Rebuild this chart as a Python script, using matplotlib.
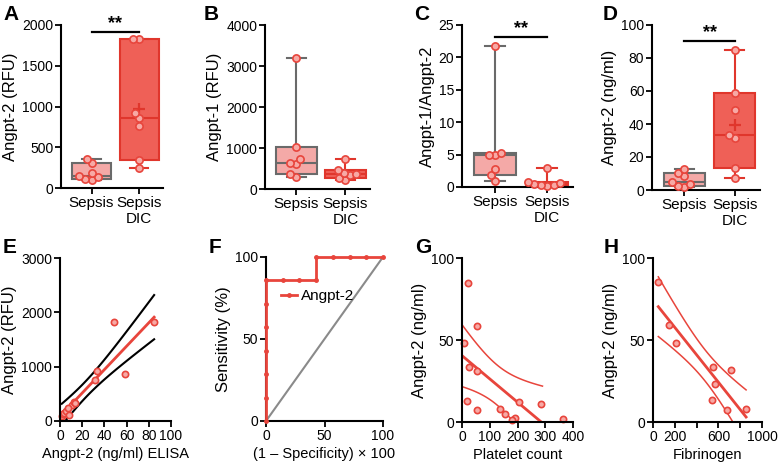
import numpy as np
import matplotlib
matplotlib.use('Agg')
import matplotlib.pyplot as plt

plt.rcParams['font.family'] = ['Liberation Sans', 'DejaVu Sans']
plt.rcParams['axes.linewidth'] = 1.5

RED = '#E8453C'
RED_DARK = '#E0362C'
DIC_FILL = '#EF6057'
SEP_FILL = '#F4A9A7'
GRAY = '#6A6A6A'
DOT_FILL = '#F7A9A5'

groups = ['Sepsis', 'Sepsis\nDIC']

# panel A-D: values per patient
a_sepsis = [98, 107, 131, 147, 188, 303, 356]
a_dic = [245, 339, 763, 857, 918, 1830, 1830]
b_sepsis = [293, 375, 603, 645, 735, 1029, 3200]
b_dic = [210, 260, 330, 360, 400, 470, 720]
c_sepsis = [1.0, 1.8, 2.8, 4.9, 5.0, 5.3, 21.7]
c_dic = [0.1, 0.25, 0.35, 0.4, 0.6, 0.7, 2.9]
d_sepsis = [1.6, 2.6, 3.7, 5.1, 8.5, 10.5, 12.6]
d_dic = [7.1, 13.2, 31.4, 33.5, 48.3, 58.8, 84.8]

# panel E: ELISA vs RFU
e_elisa = d_sepsis + d_dic
e_rfu = [98, 131, 147, 188, 107, 303, 356, 245, 339, 763, 918, 1830, 857, 1830]

# panel G: platelets
g_platelet = [21.6, 54, 8.4, 26.4, 55, 19.2, 53, 138, 154, 190, 180, 207, 286, 363]
g_angpt2 = [84.8, 58.8, 48.3, 33.5, 31.4, 12.6, 7.1, 7.8, 4.9, 2.7, 1.0, 12.0, 10.8, 2.0]
g_fit_range = (0, 290)

# panel H: fibrinogen
h_fib = [48.6, 143, 210, 550, 717, 568, 541, 681, 854]
h_angpt2 = [85.2, 59, 48.2, 33.3, 31.5, 23.4, 13.2, 7.3, 8.1]

T95 = {12: 2.1788, 7: 2.3646}

W, H = 780, 462
YLAB_FS = 12
XLAB_FS = 10.5
fig = plt.figure(figsize=(7.8, 4.62), dpi=100)


def px_axes(l, t, r, b):
    ax = fig.add_axes([l / W, 1 - b / H, (r - l) / W, (b - t) / H])
    ax.spines['top'].set_visible(False)
    ax.spines['right'].set_visible(False)
    ax.tick_params(direction='out', length=4, width=1.3, labelsize=10, pad=1.5)
    return ax


def panel_letter(x, y, s):
    fig.text(x / W, 1 - y / H, s, fontsize=15, fontweight='bold', va='top', ha='left')


def swarm_x(ax, pos, vals, diam=6.5):
    pts = ax.transData.transform(np.column_stack([np.full(len(vals), pos), vals]))
    x0 = pts[0, 0]
    cands = sorted(np.arange(-20, 20.01, 0.5), key=abs)
    placed = []
    offs = np.zeros(len(vals))
    for i in np.argsort(vals):
        yp = pts[i, 1]
        for c in cands:
            if all((c - ox) ** 2 + (yp - oy) ** 2 >= diam ** 2 for ox, oy in placed):
                break
        placed.append((c, yp))
        offs[i] = c
    inv = ax.transData.inverted()
    return [inv.transform((x0 + o, pts[i, 1]))[0] for i, o in enumerate(offs)]


def box_panel(ax, sep, dic, ylim, yticks, ylabel, mean_mark=False, sig=None):
    ax.set_xlim(0.36, 2.5)
    ax.set_ylim(*ylim)
    ax.set_yticks(yticks)
    ax.set_ylabel(ylabel, fontsize=YLAB_FS, labelpad=3)
    for pos, vals, fc, ec in [(1, sep, SEP_FILL, GRAY), (2, dic, DIC_FILL, RED_DARK)]:
        q1, med, q3 = np.percentile(vals, [25, 50, 75], method='weibull')
        st = dict(med=med, q1=q1, q3=q3, whislo=min(vals), whishi=max(vals), fliers=[])
        ax.bxp([st], positions=[pos], widths=0.82, patch_artist=True, manage_ticks=False,
               boxprops=dict(facecolor=fc, edgecolor=ec, linewidth=1.5),
               whiskerprops=dict(color=ec, linewidth=1.5),
               capprops=dict(color=ec, linewidth=1.5), capwidths=0.38,
               medianprops=dict(color=ec, linewidth=1.5), zorder=2)
        xs = swarm_x(ax, pos, vals)
        ax.plot(xs, vals, 'o', ms=5.2, mfc=DOT_FILL, mec=RED, mew=1.2,
                zorder=4, clip_on=False)
        if mean_mark and pos == 2:
            ax.plot(pos, np.mean(vals), '+', ms=8, mew=1.6, color=RED_DARK, zorder=3)
    ax.set_xticks([1, 2])
    ax.set_xticklabels(groups, fontsize=11)
    if sig is not None:
        ax.plot([1, 2], [sig, sig], color='black', lw=1.6, clip_on=False)
        ax.text(1.5, sig, '**', ha='center', va='bottom', fontsize=13,
                fontweight='bold')


def fit_band(x, y, xs, t):
    x = np.asarray(x, float)
    y = np.asarray(y, float)
    n = len(x)
    b, a = np.polyfit(x, y, 1)
    s = np.sqrt(np.sum((y - (a + b * x)) ** 2) / (n - 2))
    sxx = np.sum((x - x.mean()) ** 2)
    se = s * np.sqrt(1 / n + (xs - x.mean()) ** 2 / sxx)
    yh = a + b * xs
    return yh, yh - t * se, yh + t * se


# ---- top row
axA = px_axes(61, 25, 163, 188)
box_panel(axA, a_sepsis, a_dic, (0, 2000), [0, 500, 1000, 1500, 2000],
          'Angpt-2 (RFU)', mean_mark=True, sig=1915)
axB = px_axes(265, 25, 370, 189)
box_panel(axB, b_sepsis, b_dic, (0, 4000), [0, 1000, 2000, 3000, 4000],
          'Angpt-1 (RFU)')
axC = px_axes(462, 25, 573, 187)
box_panel(axC, c_sepsis, c_dic, (0, 25), [0, 5, 10, 15, 20, 25],
          'Angpt-1/Angpt-2', sig=23.2)
axD = px_axes(652, 25, 760, 190)
box_panel(axD, d_sepsis, d_dic, (0, 100), [0, 20, 40, 60, 80, 100],
          'Angpt-2 (ng/ml)', mean_mark=True, sig=90.3)

# ---- E
axE = px_axes(60, 258, 171, 421)
axE.set_xlim(0, 100)
axE.set_ylim(0, 3000)
axE.set_xticks([0, 20, 40, 60, 80, 100])
axE.set_yticks([0, 1000, 2000, 3000])
xs = np.linspace(min(e_elisa), max(e_elisa), 100)
yh, lo, hi = fit_band(e_elisa, e_rfu, xs, T95[len(e_elisa) - 2])
axE.plot(xs, lo, color='black', lw=1.5)
axE.plot(xs, hi, color='black', lw=1.5)
axE.plot(xs, yh, color=RED, lw=2)
axE.plot(e_elisa, e_rfu, 'o', ms=4.5, mfc=DOT_FILL, mec=RED, mew=1.2, clip_on=False)
axE.set_xlabel('Angpt-2 (ng/ml) ELISA', fontsize=XLAB_FS, labelpad=3)
axE.set_ylabel('Angpt-2 (RFU)', fontsize=YLAB_FS, labelpad=3)

# ---- F: ROC from panel D values
axF = px_axes(266, 257, 383, 421)
axF.set_xlim(0, 100)
axF.set_ylim(0, 100)
axF.set_xticks([0, 50, 100])
axF.set_yticks([0, 50, 100])
neg = np.array(d_sepsis)
pos = np.array(d_dic)
thr = np.sort(np.concatenate([neg, pos]))[::-1]
fpr = [0.0] + [100 * np.mean(neg >= v) for v in thr]
tpr = [0.0] + [100 * np.mean(pos >= v) for v in thr]
axF.plot([0, 100], [0, 100], color='#8A8A8A', lw=1.5, zorder=2)
axF.plot(fpr, tpr, '-', marker='o', ms=2.5, color=RED, lw=2, clip_on=False,
         zorder=3, label='Angpt-2')
axF.legend(loc='upper left', bbox_to_anchor=(0.08, 0.84), frameon=False,
           fontsize=11, handlelength=1.0, handletextpad=0.3, borderaxespad=0,
           numpoints=1)
axF.set_xlabel('(1 \u2013 Specificity) \u00d7 100', fontsize=XLAB_FS, labelpad=3)
axF.set_ylabel('Sensitivity (%)', fontsize=YLAB_FS, labelpad=3)

# ---- G
axG = px_axes(462, 258, 573, 422)
axG.set_xlim(0, 400)
axG.set_ylim(0, 100)
axG.set_xticks([0, 100, 200, 300, 400])
axG.set_yticks([0, 50, 100])
xs = np.linspace(g_fit_range[0], g_fit_range[1], 100)
yh, lo, hi = fit_band(g_platelet, g_angpt2, xs, T95[len(g_platelet) - 2])
axG.plot(xs, lo, color=RED, lw=1.1)
axG.plot(xs, hi, color=RED, lw=1.1)
axG.plot(xs, yh, color=RED, lw=2)
axG.plot(g_platelet, g_angpt2, 'o', ms=4.5, mfc=DOT_FILL, mec=RED, mew=1.2, clip_on=False)
axG.set_xlabel('Platelet count', fontsize=XLAB_FS, labelpad=3)
axG.set_ylabel('Angpt-2 (ng/ml)', fontsize=YLAB_FS, labelpad=3)

# ---- H
axH = px_axes(653, 258, 762, 422)
axH.set_xlim(0, 1000)
axH.set_ylim(0, 100)
axH.set_xticks([0, 200, 400, 600, 800, 1000])
axH.set_xticklabels(['0', '200', '', '600', '', '1000'])
axH.set_yticks([0, 50, 100])
xs = np.linspace(min(h_fib), max(h_fib), 100)
yh, lo, hi = fit_band(h_fib, h_angpt2, xs, T95[len(h_fib) - 2])
axH.plot(xs, lo, color=RED, lw=1.1)
axH.plot(xs, hi, color=RED, lw=1.1)
axH.plot(xs, yh, color=RED, lw=2)
axH.plot(h_fib, h_angpt2, 'o', ms=4.5, mfc=DOT_FILL, mec=RED, mew=1.2, clip_on=False)
axH.set_xlabel('Fibrinogen', fontsize=XLAB_FS, labelpad=3)
axH.set_ylabel('Angpt-2 (ng/ml)', fontsize=YLAB_FS, labelpad=3)

for x, y, s in [(3, 5, 'A'), (204, 5, 'B'), (414, 5, 'C'), (603, 5, 'D'),
                (3, 238, 'E'), (209, 238, 'F'), (415, 238, 'G'), (604, 238, 'H')]:
    panel_letter(x, y, s)

fig.savefig('out.png', dpi=100)
